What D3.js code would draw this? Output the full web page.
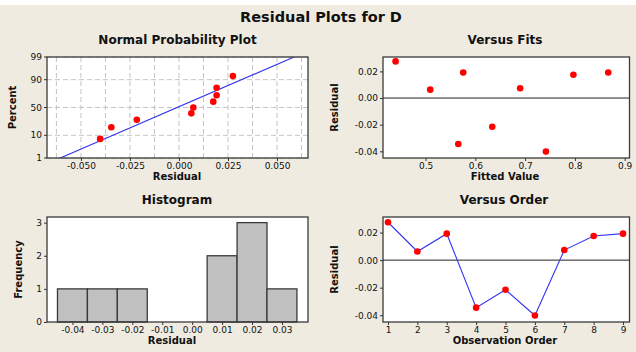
<!DOCTYPE html>
<html>
<head>
<meta charset="utf-8">
<script src="https://cdn.jsdelivr.net/npm/d3@7"></script>
<style>
  body { margin: 0; background: #fff; }
  svg text { font-family: "DejaVu Sans", Verdana, sans-serif; fill: #111; }
  .tick line { stroke: #333; }
  .ttl { font-weight: bold; }
</style>
</head>
<body>
<svg id="chart" width="636" height="352"></svg>
<script>
// residuals by observation order, and their fitted values
var order = [1, 2, 3, 4, 5, 6, 7, 8, 9];
var residuals = [0.0275, 0.0063, 0.0192, -0.0345, -0.0215, -0.0402, 0.0073, 0.0175, 0.0192];
var fitted = [0.4398, 0.5094, 0.5757, 0.5657, 0.634, 0.7418, 0.690, 0.797, 0.867];

// normal probability plot: sorted residuals vs percent
var probResid = [-0.0402, -0.0345, -0.0215, 0.0063, 0.0073, 0.0175, 0.0192, 0.0192, 0.0275];
var probPct = [7.4, 18.1, 28.7, 39.4, 50, 60.6, 71.3, 81.9, 92.6];
var lineResid = [-0.0605, 0.0587]; // fitted normal line end points
var linePct = [1, 99];

// histogram
var binMids = [-0.04, -0.03, -0.02, -0.01, 0.00, 0.01, 0.02, 0.03];
var binCounts = [1, 1, 1, 0, 0, 2, 3, 1];
var binWidth = 0.01;

// tick labels
var probXTicks = [-0.05, -0.025, 0, 0.025, 0.05];
var probXLabels = ['-0.050', '-0.025', '0.000', '0.025', '0.050'];
var probGridX = [-0.0625, -0.05, -0.0375, -0.025, -0.0125, 0, 0.0125, 0.025, 0.0375, 0.05, 0.0625];
var probYTicks = [1, 10, 50, 90, 99];
var residTicks = [-0.04, -0.02, 0, 0.02];
var residLabels = ['-0.04', '-0.02', '0.00', '0.02'];
var fitTicks = [0.5, 0.6, 0.7, 0.8, 0.9];
var histYTicks = [0, 1, 2, 3];
var histXLabels = ['-0.04', '-0.03', '-0.02', '-0.01', '0.00', '0.01', '0.02', '0.03'];

var tickFont = '9px';

var svg = d3.select('#chart');

// page background
svg.append('rect').attr('x', 0).attr('y', 5).attr('width', 636).attr('height', 347).attr('fill', '#efebe1');

svg.append('text').attr('class', 'ttl')
  .attr('x', 321).attr('y', 22).attr('text-anchor', 'middle')
  .style('font-size', '14.5px').text('Residual Plots for D');

// inverse normal cdf (Acklam) for the probability scale
function qnorm(p) {
  var a = [-39.69683028665376, 220.9460984245205, -275.9285104469687, 138.3577518672690, -30.66479806614716, 2.506628277459239];
  var b = [-54.47609879822406, 161.5858368580409, -155.6989798598866, 66.80131188771972, -13.28068155288572];
  var c = [-0.007784894002430293, -0.3223964580411365, -2.400758277161838, -2.549732539343734, 4.374664141464968, 2.938163982698783];
  var d = [0.007784695709041462, 0.3224671290700398, 2.445134137142996, 3.754408661907416];
  var q, r;
  if (p < 0.02425) {
    q = Math.sqrt(-2 * Math.log(p));
    return (((((c[0]*q+c[1])*q+c[2])*q+c[3])*q+c[4])*q+c[5]) / ((((d[0]*q+d[1])*q+d[2])*q+d[3])*q+1);
  } else if (p > 1 - 0.02425) {
    q = Math.sqrt(-2 * Math.log(1 - p));
    return -(((((c[0]*q+c[1])*q+c[2])*q+c[3])*q+c[4])*q+c[5]) / ((((d[0]*q+d[1])*q+d[2])*q+d[3])*q+1);
  }
  q = p - 0.5; r = q * q;
  return (((((a[0]*r+a[1])*r+a[2])*r+a[3])*r+a[4])*r+a[5])*q / (((((b[0]*r+b[1])*r+b[2])*r+b[3])*r+b[4])*r+1);
}

function panel(box, title, xlab, ylab) {
  var g = svg.append('g');
  g.append('rect')
    .attr('x', box.x0).attr('y', box.y0)
    .attr('width', box.x1 - box.x0).attr('height', box.y1 - box.y0)
    .attr('fill', '#fff');
  g.append('text').attr('class', 'ttl')
    .attr('x', box.tx).attr('y', box.y0 - 13).attr('text-anchor', 'middle')
    .style('font-size', '12px').text(title);
  g.append('text').attr('class', 'ttl')
    .attr('x', box.lx).attr('y', box.y1 + 22).attr('text-anchor', 'middle')
    .style('font-size', '10px').text(xlab);
  g.append('text').attr('class', 'ttl')
    .attr('transform', `translate(${box.yl}, ${(box.y0 + box.y1) / 2}) rotate(-90)`)
    .attr('text-anchor', 'middle')
    .style('font-size', '10px').text(ylab);
  return g;
}

function frame(g, box) {
  g.append('rect')
    .attr('x', box.x0).attr('y', box.y0)
    .attr('width', box.x1 - box.x0).attr('height', box.y1 - box.y0)
    .attr('fill', 'none').attr('stroke', '#3a3a3a').attr('stroke-width', 1.3);
}

function styleAxis(a) {
  a.select('.domain').remove();
  a.selectAll('text').style('font-size', tickFont).attr('fill', '#111');
}

function axes(g, box, xs, ys, xt, xl, yt, yl) {
  var xa = g.append('g').attr('transform', `translate(0, ${box.y1})`)
    .call(d3.axisBottom(xs).tickValues(xt).tickFormat((d, i) => xl[i]).tickSize(3).tickPadding(1.5));
  var ya = g.append('g').attr('transform', `translate(${box.x0}, 0)`)
    .call(d3.axisLeft(ys).tickValues(yt).tickFormat((d, i) => yl[i]).tickSize(3).tickPadding(2));
  styleAxis(xa);
  styleAxis(ya);
}

function dots(g, xs, ys, xv, yv) {
  g.selectAll(null).data(xv).enter().append('circle')
    .attr('cx', d => xs(d))
    .attr('cy', (d, i) => ys(yv[i]))
    .attr('r', 3.3)
    .attr('fill', '#ff0000');
}

// ---- Normal Probability Plot
var b1 = {x0: 47, x1: 308, y0: 57, y1: 158, tx: 177.5, lx: 177, yl: 16};
var g1 = panel(b1, 'Normal Probability Plot', 'Residual', 'Percent');
var x1 = d3.scaleLinear().domain([-0.0673, 0.0658]).range([b1.x0, b1.x1]);
var zScale = d3.scaleLinear().domain([qnorm(0.01), qnorm(0.99)]).range([b1.y1, b1.y0]);
var y1 = p => zScale(qnorm(p / 100));

g1.selectAll(null).data(probGridX).enter().append('line')
  .attr('x1', d => x1(d)).attr('x2', d => x1(d))
  .attr('y1', b1.y0).attr('y2', b1.y1)
  .attr('stroke', '#c4c4c4').attr('stroke-dasharray', '5,3');
g1.selectAll(null).data(probYTicks).enter().append('line')
  .attr('x1', b1.x0).attr('x2', b1.x1)
  .attr('y1', d => y1(d)).attr('y2', d => y1(d))
  .attr('stroke', '#c4c4c4').attr('stroke-dasharray', '5,3');

g1.append('line')
  .attr('x1', x1(lineResid[0])).attr('y1', y1(linePct[0]))
  .attr('x2', x1(lineResid[1])).attr('y2', y1(linePct[1]))
  .attr('stroke', '#3030f0').attr('stroke-width', 1.1);
dots(g1, x1, y1, probResid, probPct);
frame(g1, b1);

var xa1 = g1.append('g').attr('transform', `translate(0, ${b1.y1})`)
  .call(d3.axisBottom(x1).tickValues(probXTicks).tickFormat((d, i) => probXLabels[i]).tickSize(3).tickPadding(1.5));
styleAxis(xa1);
// probability y axis drawn by hand since the scale is custom
var ya1 = g1.append('g');
ya1.selectAll(null).data(probYTicks).enter().append('line')
  .attr('x1', b1.x0 - 3).attr('x2', b1.x0)
  .attr('y1', d => y1(d)).attr('y2', d => y1(d)).attr('stroke', '#333');
ya1.selectAll(null).data(probYTicks).enter().append('text')
  .attr('x', b1.x0 - 5).attr('y', d => y1(d)).attr('dy', '0.35em')
  .attr('text-anchor', 'end').style('font-size', tickFont).text(d => d);

// ---- Versus Fits
var b2 = {x0: 383, x1: 629.5, y0: 57, y1: 158, tx: 505, lx: 505, yl: 338};
var g2 = panel(b2, 'Versus Fits', 'Fitted Value', 'Residual');
var x2 = d3.scaleLinear().domain([0.4145, 0.9097]).range([b2.x0, b2.x1]);
var y2 = d3.scaleLinear().domain([-0.045, 0.0308]).range([b2.y1, b2.y0]);
g2.append('line')
  .attr('x1', b2.x0).attr('x2', b2.x1)
  .attr('y1', y2(0)).attr('y2', y2(0))
  .attr('stroke', '#222').attr('stroke-width', 1);
dots(g2, x2, y2, fitted, residuals);
frame(g2, b2);
axes(g2, b2, x2, y2, fitTicks, fitTicks.map(String), residTicks, residLabels);

// ---- Histogram
var b3 = {x0: 47, x1: 308, y0: 217, y1: 322, tx: 177, lx: 172, yl: 22};
var g3 = panel(b3, 'Histogram', 'Residual', 'Frequency');
var x3 = d3.scaleLinear().domain([-0.0485, 0.0387]).range([b3.x0, b3.x1]);
var y3 = d3.scaleLinear().domain([0, 3.17]).range([b3.y1, b3.y0]);
g3.selectAll(null).data(binMids).enter().append('rect')
  .attr('x', d => x3(d - binWidth / 2))
  .attr('width', d => x3(d + binWidth / 2) - x3(d - binWidth / 2))
  .attr('y', (d, i) => y3(binCounts[i]))
  .attr('height', (d, i) => y3(0) - y3(binCounts[i]))
  .attr('fill', '#c0c0c0').attr('stroke', '#3a3a3a').attr('stroke-width', 1.3);
frame(g3, b3);
axes(g3, b3, x3, y3, binMids, histXLabels, histYTicks, histYTicks.map(String));

// ---- Versus Order
var b4 = {x0: 383, x1: 629.5, y0: 217, y1: 322, tx: 504, lx: 505, yl: 338};
var g4 = panel(b4, 'Versus Order', 'Observation Order', 'Residual');
var x4 = d3.scaleLinear().domain([0.83, 9.22]).range([b4.x0, b4.x1]);
var y4 = d3.scaleLinear().domain([-0.0449, 0.0313]).range([b4.y1, b4.y0]);
g4.append('line')
  .attr('x1', b4.x0).attr('x2', b4.x1)
  .attr('y1', y4(0)).attr('y2', y4(0))
  .attr('stroke', '#222').attr('stroke-width', 1);
var lineGen = d3.line().x((d, i) => x4(d)).y((d, i) => y4(residuals[i]));
g4.append('path')
  .attr('d', lineGen(order))
  .attr('fill', 'none').attr('stroke', '#3535f0').attr('stroke-width', 1.1);
dots(g4, x4, y4, order, residuals);
frame(g4, b4);
axes(g4, b4, x4, y4, order, order.map(String), residTicks, residLabels);
</script>
</body>
</html>
